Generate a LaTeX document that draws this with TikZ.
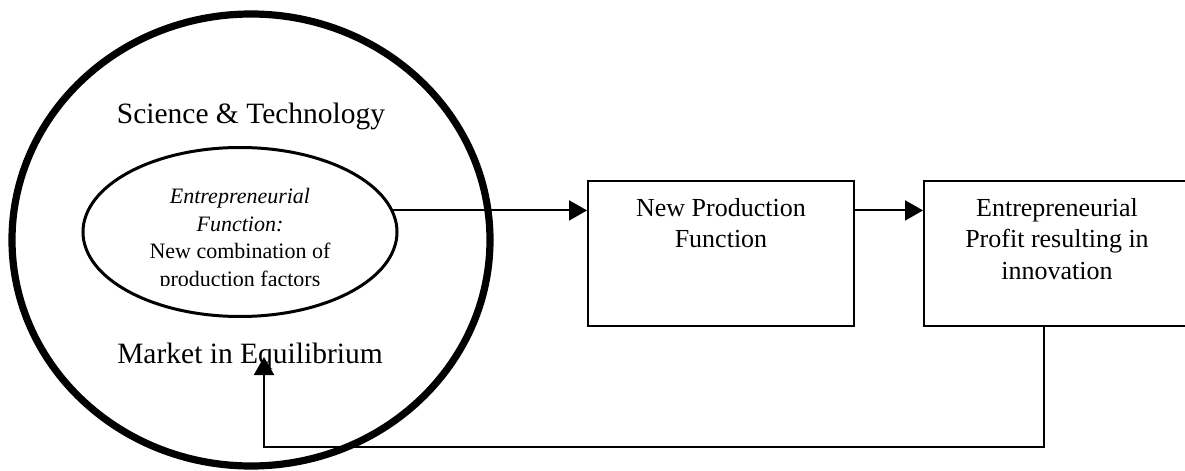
\documentclass[tikz,border=0pt]{standalone}
\usepackage{fontspec}
\setmainfont{Liberation Serif}
\usetikzlibrary{shapes.geometric,arrows.meta,positioning}

\begin{document}
\begin{tikzpicture}[x=0.5pt,y=-0.5pt,
  big/.style={font=\fontsize{14.75}{18}\selectfont, inner sep=0pt, anchor=base},
  box/.style={draw, line width=1pt, minimum width=133pt, minimum height=72.5pt, inner sep=0pt},
  boxtext/.style={font=\fontsize{13}{15.75}\selectfont, align=center, inner sep=0pt},
  arr/.style={line width=1pt, -{Triangle[length=9pt,width=10pt]}}]
 \useasboundingbox (0,0) rectangle (1185,471);
 \clip (0,0) rectangle (1185,471);
 % the economy
 \node (world) [ellipse, draw, line width=3.6pt, minimum width=239pt, minimum height=226pt, inner sep=0pt] at (251,240) {};
 \node (sci) [big] at (251,123) {Science \& Technology};
 \node (mkt) [big] at (250,363) {Market in Equilibrium};
 \node (entre) [ellipse, draw, line width=1.5pt, minimum width=157pt, minimum height=84.5pt, inner sep=0pt] at (240,232) {};
 \begin{scope}
  \clip (0,0) rectangle (1185,285);
  \node (func) [font=\fontsize{11}{13.75}\selectfont, align=center, inner sep=0pt, anchor=north] at (240,188)
   {\textit{Entrepreneurial}\\ \textit{Function:}\\ New combination of\\ production factors};
 \end{scope}
 % boxes
 \node (prod) [box] at (721,253.5) {};
 \node (profit) [box] at (1057,253.5) {};
 \node (prodtxt) [boxtext, anchor=north, below=9pt of prod.north] {New Production\\ Function};
 \node (profittxt) [boxtext, anchor=north, below=9pt of profit.north] {Entrepreneurial\\ Profit resulting in\\ innovation};
 % arrows
 \coordinate (fb) at (1044,447);
 \coordinate (tip) at (264,357);
 \draw[arr] (entre.8) -- (entre.8 -| prod.west);
 \draw[arr] (prod.east |- entre.8) -- (profit.west |- entre.8);
 \draw[arr] (fb |- profit.south) -- (fb) -| (tip);
\end{tikzpicture}
\end{document}
